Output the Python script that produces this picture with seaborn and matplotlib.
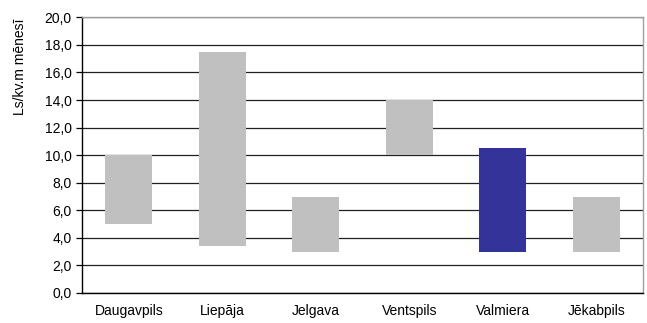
import matplotlib
matplotlib.use("Agg")
import matplotlib.pyplot as plt
import seaborn as sns
import numpy as np
from matplotlib.ticker import FuncFormatter, MultipleLocator

cities = ["Daugavpils", "Liepāja", "Jelgava", "Ventspils", "Valmiera", "Jēkabpils"]
low = [5.0, 3.4, 3.0, 10.0, 3.0, 3.0]
high = [10.0, 17.5, 7.0, 14.0, 10.5, 7.0]
highlight = "Valmiera"
ylabel = "Ls/kv.m mēnesī"

span = [h - l for h, l in zip(high, low)]

sns.set_theme(style="white")
plt.rcParams["font.family"] = ["Liberation Sans", "DejaVu Sans"]
plt.rcParams["font.size"] = 10

fig = plt.figure(figsize=(6.47, 3.23), dpi=100)
ax = fig.add_axes([82 / 647, 1 - 293 / 323, (643 - 82) / 647, (293 - 17.3) / 323])

sns.barplot(x=cities, y=span, bottom=low, color="#c0c0c0", width=0.5,
            errorbar=None, saturation=1, ax=ax, zorder=3, linewidth=0)
for name, patch in zip(cities, ax.patches):
    patch.set_facecolor("#333399" if name == highlight else "#c0c0c0")
    patch.set_edgecolor("none")

ax.set_ylim(0, 20)
ax.set_xlim(-0.5, len(cities) - 0.5)
ax.yaxis.set_major_locator(MultipleLocator(2))
ax.yaxis.set_major_formatter(FuncFormatter(lambda v, p: f"{v:.1f}".replace(".", ",")))
ax.yaxis.grid(True, color="#202020", linewidth=0.9, zorder=0)
ax.set_axisbelow(True)
ax.xaxis.grid(False)

for s in ["top", "right"]:
    ax.spines[s].set_color("#a0a0a0")
    ax.spines[s].set_linewidth(1.0)
for s in ["left", "bottom"]:
    ax.spines[s].set_color("black")
    ax.spines[s].set_linewidth(1.0)

ax.tick_params(axis="y", which="major", left=True, length=4, width=0.9, color="black",
               pad=3.5, labelsize=10, labelcolor="black", direction="out")
ax.tick_params(axis="x", length=0, pad=8, labelsize=10, labelcolor="black")

ax.set_ylabel(ylabel, fontsize=10, color="black")
ax.yaxis.label.set_va("center")
ax.yaxis.set_label_coords((20 - 82) / 561, (293 - 67) / 275.7)
ax.set_xlabel("")

fig.savefig("out.png", dpi=100)
